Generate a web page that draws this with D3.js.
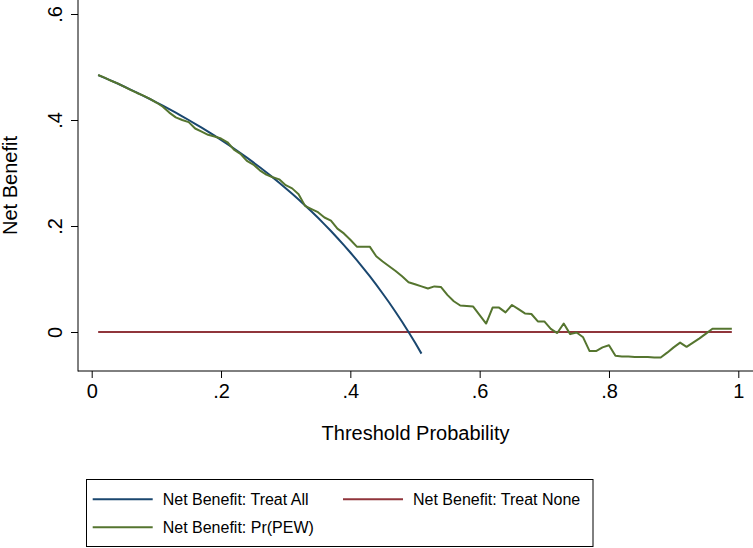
<!DOCTYPE html>
<html>
<head>
<meta charset="utf-8">
<script src="https://cdn.jsdelivr.net/npm/d3@7"></script>
<style>
  html, body { margin: 0; padding: 0; background: #ffffff; }
  svg { display: block; font-family: "Liberation Sans", Arial, Helvetica, sans-serif; }
</style>
</head>
<body>
<svg id="chart" width="753" height="548"></svg>
<script>
// ---------- data ----------
const thresholds = [
  0.01,0.02,0.03,0.04,0.05,0.06,0.07,0.08,0.09,0.10,
  0.11,0.12,0.13,0.14,0.15,0.16,0.17,0.18,0.19,0.20,
  0.21,0.22,0.23,0.24,0.25,0.26,0.27,0.28,0.29,0.30,
  0.31,0.32,0.33,0.34,0.35,0.36,0.37,0.38,0.39,0.40,
  0.41,0.42,0.43,0.44,0.45,0.46,0.47,0.48,0.49,0.50,
  0.51,0.52,0.53,0.54,0.55,0.56,0.57,0.58,0.59,0.60,
  0.61,0.62,0.63,0.64,0.65,0.66,0.67,0.68,0.69,0.70,
  0.71,0.72,0.73,0.74,0.75,0.76,0.77,0.78,0.79,0.80,
  0.81,0.82,0.83,0.84,0.85,0.86,0.87,0.88,0.89,0.90,
  0.91,0.92,0.93,0.94,0.95,0.96,0.97,0.98,0.99
];

// Net Benefit: Treat All (thresholds 0.01 .. 0.51)
const treatAll = [
  0.4848,0.4796,0.4742,0.4688,0.4632,0.4574,0.4516,0.4457,0.4396,0.4333,
  0.4270,0.4205,0.4138,0.4070,0.4000,0.3929,0.3855,0.3780,0.3704,0.3625,
  0.3544,0.3462,0.3377,0.3289,0.3200,0.3108,0.3014,0.2917,0.2817,0.2714,
  0.2609,0.2500,0.2388,0.2273,0.2154,0.2031,0.1905,0.1774,0.1639,0.1500,
  0.1356,0.1207,0.1053,0.0893,0.0727,0.0556,0.0377,0.0192,0.0000,-0.0200,
  -0.0408
];

// Net Benefit: Treat None
const treatNone = thresholds.map(() => 0);

// Net Benefit: Pr(PEW)
const modelNB = [
  0.485,0.480,0.474,0.469,0.463,0.457,0.451,0.446,0.440,0.433,
  0.425,0.414,0.405,0.400,0.396,0.384,0.378,0.372,0.369,0.365,
  0.358,0.344,0.336,0.323,0.316,0.305,0.297,0.292,0.288,0.277,
  0.271,0.260,0.238,0.232,0.226,0.216,0.210,0.195,0.186,0.174,
  0.161,0.161,0.161,0.143,0.133,0.124,0.115,0.105,0.094,0.090,
  0.086,0.082,0.086,0.085,0.070,0.058,0.050,0.049,0.048,0.032,
  0.016,0.046,0.046,0.037,0.051,0.043,0.035,0.034,0.020,0.020,
  0.006,-0.002,0.016,-0.004,-0.001,-0.010,-0.036,-0.036,-0.029,-0.025,
  -0.045,-0.046,-0.046,-0.047,-0.047,-0.047,-0.048,-0.048,-0.039,-0.029,
  -0.020,-0.028,-0.020,-0.012,-0.003,0.006,0.006,0.006,0.006
];

const xTickValues = [0, 0.2, 0.4, 0.6, 0.8, 1];
const xTickLabels = ["0", ".2", ".4", ".6", ".8", "1"];
const yTickValues = [0, 0.2, 0.4, 0.6];
const yTickLabels = ["0", ".2", ".4", ".6"];

const seriesNames = ["Net Benefit: Treat All", "Net Benefit: Treat None", "Net Benefit: Pr(PEW)"];
const seriesColors = ["#1a476f", "#90353b", "#55752f"];

const xTitle = "Threshold Probability";
const yTitle = "Net Benefit";

// ---------- layout ----------
const svg = d3.select("#chart");
const axisLeftX = 78, axisBottomY = 371;

const x = d3.scaleLinear().domain([0, 1]).range([91.7, 738.3]);
const y = d3.scaleLinear().domain([0, 0.6]).range([332, 14]);

// axis lines
svg.append("line").attr("x1", axisLeftX).attr("x2", axisLeftX)
  .attr("y1", 0).attr("y2", axisBottomY + 0.5)
  .attr("stroke", "#000").attr("stroke-width", 1);
svg.append("line").attr("x1", axisLeftX).attr("x2", 753)
  .attr("y1", axisBottomY).attr("y2", axisBottomY)
  .attr("stroke", "#000").attr("stroke-width", 1);

// x axis
const xAxis = d3.axisBottom(x).tickValues(xTickValues)
  .tickFormat((d, i) => xTickLabels[i]).tickSize(7).tickSizeOuter(0);
const gx = svg.append("g").attr("transform", `translate(0,${axisBottomY})`).call(xAxis);
gx.select(".domain").remove();
gx.selectAll(".tick line").attr("stroke", "#000");
gx.selectAll(".tick text")
  .attr("y", 27).attr("dy", 0)
  .attr("fill", "#000")
  .style("font-size", "20px")
  .style("font-family", "'Liberation Sans', Arial, sans-serif");

// y axis
const yAxis = d3.axisLeft(y).tickValues(yTickValues)
  .tickFormat((d, i) => yTickLabels[i]).tickSize(7).tickSizeOuter(0);
const gy = svg.append("g").attr("transform", `translate(${axisLeftX},0)`).call(yAxis);
gy.select(".domain").remove();
gy.selectAll(".tick line").attr("stroke", "#000");
gy.selectAll(".tick text")
  .attr("transform", "rotate(-90)")
  .attr("x", 0).attr("y", -16).attr("dy", 0)
  .attr("text-anchor", "middle")
  .attr("fill", "#000")
  .style("font-size", "20px")
  .style("font-family", "'Liberation Sans', Arial, sans-serif");

// axis titles
svg.append("text")
  .attr("x", 415.5).attr("y", 440)
  .attr("text-anchor", "middle")
  .style("font-size", "20px")
  .text(xTitle);
svg.append("text")
  .attr("transform", "translate(17,185.5) rotate(-90)")
  .attr("text-anchor", "middle")
  .style("font-size", "20px")
  .text(yTitle);

// lines
const line = d3.line().x(d => x(d[0])).y(d => y(d[1]));
const plotData = [
  treatAll.map((v, i) => [thresholds[i], v]),
  treatNone.map((v, i) => [thresholds[i], v]),
  modelNB.map((v, i) => [thresholds[i], v])
];
// draw order: treat none, treat all, model
[1, 0, 2].forEach(k => {
  svg.append("path")
    .datum(plotData[k])
    .attr("fill", "none")
    .attr("stroke", seriesColors[k])
    .attr("stroke-width", 2)
    .attr("stroke-linejoin", "round")
    .attr("d", line);
});

// legend
const legend = svg.append("g");
legend.append("rect")
  .attr("x", 86.5).attr("y", 479.5)
  .attr("width", 506.5).attr("height", 67)
  .attr("fill", "#fff").attr("stroke", "#000").attr("stroke-width", 1);

const legendItems = [
  { k: 0, lx: 92.7, ly: 499.3 },
  { k: 1, lx: 343, ly: 499.3 },
  { k: 2, lx: 92.7, ly: 527.3 }
];
legendItems.forEach(it => {
  legend.append("line")
    .attr("x1", it.lx).attr("x2", it.lx + 60)
    .attr("y1", it.ly).attr("y2", it.ly)
    .attr("stroke", seriesColors[it.k]).attr("stroke-width", 2);
  legend.append("text")
    .attr("x", it.lx + 70).attr("y", it.ly + 5.8)
    .style("font-size", "16px")
    .text(seriesNames[it.k]);
});
</script>
</body>
</html>
